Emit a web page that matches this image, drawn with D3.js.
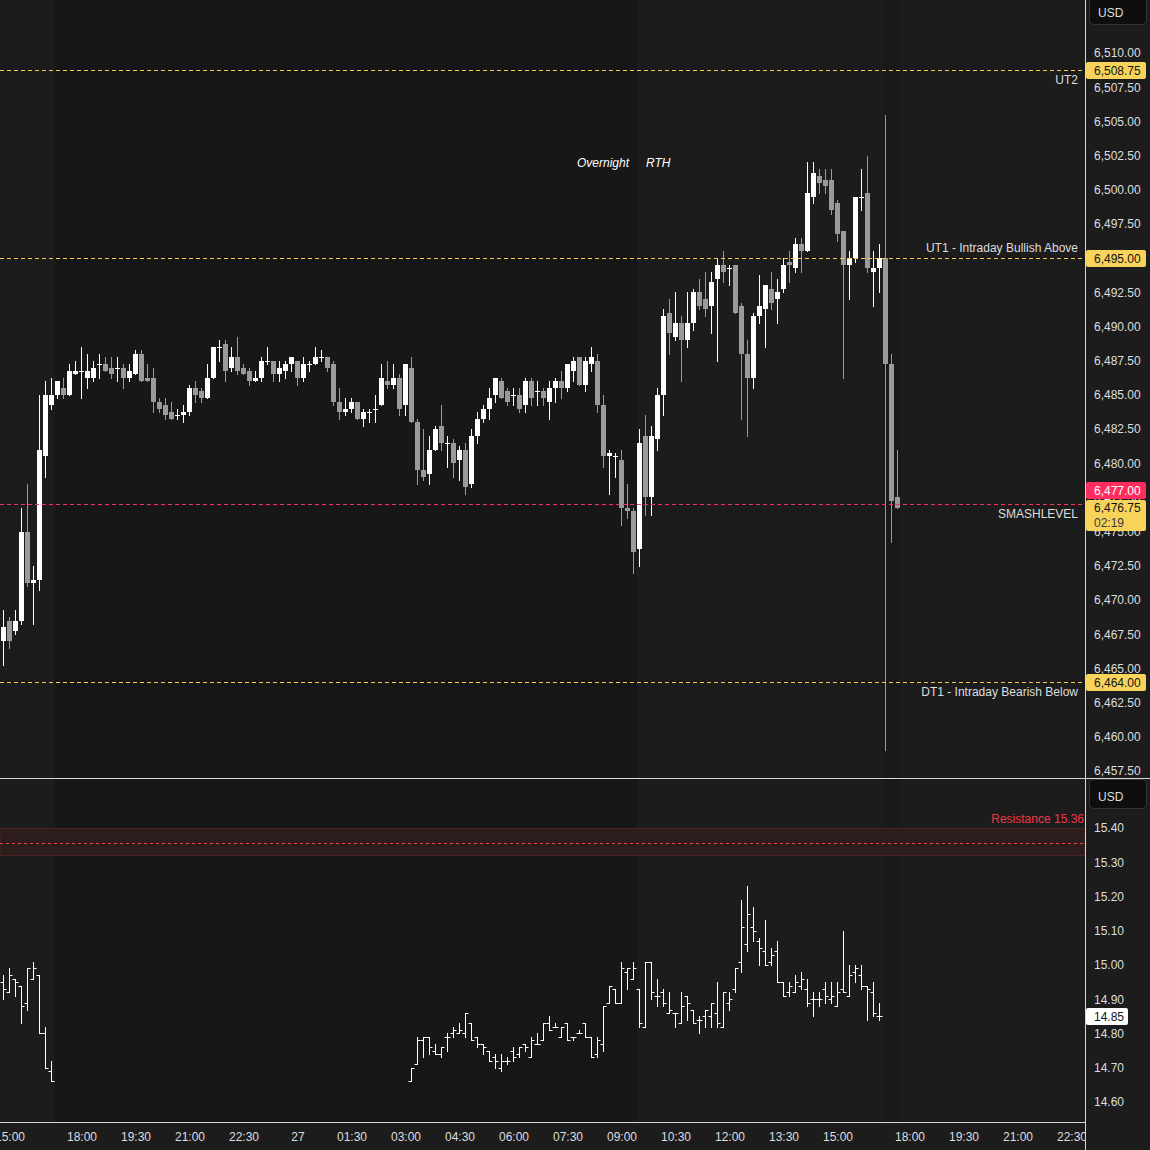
<!DOCTYPE html>
<html>
<head>
<meta charset="utf-8">
<script src="https://cdn.jsdelivr.net/npm/d3@7"></script>
<style>
html,body{margin:0;padding:0;background:#1c1c1c;}
svg{display:block;font-family:"Liberation Sans",Arial,sans-serif;}
</style>
</head>
<body>
<svg id="chart" width="1150" height="1150"></svg>
<script>
// ES 10 minute bars [open, high, low, close], bar 0 = 14:50 of the previous session
var esBars = [
	[6467,6469.25,6465.25,6468],[6468.5,6468.75,6466.5,6467],[6467.75,6469.25,6467.5,6468.5],[6468.5,6476.75,6468.25,6475],
	[6475,6478.5,6471,6471.25],[6471.25,6472.5,6468.25,6471.5],[6471.5,6485,6470.75,6481],[6480.5,6486,6479,6485],
	[6484.25,6486.25,6484,6485],[6485,6486,6484.75,6486],[6485.5,6486.25,6484.75,6485],[6485,6487.25,6485,6486.75],
	[6486.5,6487.5,6486.5,6486.75],[6486.75,6488.5,6484.75,6486.75],[6486.25,6488,6485.5,6486.75],[6486.25,6487.5,6486,6487],
	[6487.25,6488,6486.25,6487.25],[6487.25,6487.75,6486.75,6486.75],[6487,6487.75,6486.25,6486.5],[6487,6487.75,6486,6487],
	[6487,6487.25,6485.5,6486.25],[6486.25,6487.25,6486,6486.75],[6486.5,6488.25,6486.5,6488],[6488,6488.25,6486,6486],
	[6486.25,6487.25,6486,6486],[6486.25,6487,6483.75,6484.5],[6484.5,6484.75,6483.75,6484],[6484.25,6484.75,6483.25,6483.5],
	[6483.75,6484.5,6483.25,6483.25],[6483.5,6484,6483.25,6483.5],[6483.5,6484.25,6483,6483.75],[6483.75,6485.75,6483.5,6485.5],
	[6485.5,6486,6484.5,6485],[6485.25,6485.5,6484.5,6484.75],[6484.75,6487.25,6484.75,6486.25],[6486.25,6488.5,6486.25,6488.5],
	[6488.5,6489,6487.5,6488.5],[6488.75,6489,6486,6486.75],[6487,6488.5,6486.75,6487.75],[6487.75,6489.25,6486.5,6486.75],
	[6487,6487.25,6486.5,6486.5],[6486.75,6487,6485.75,6486],[6486,6486.75,6486,6486.25],[6486.25,6487.75,6486,6487.5],
	[6487.5,6488.5,6487.25,6487.5],[6487.5,6487.5,6486,6486.5],[6486.5,6487.5,6486,6487],[6486.75,6487.5,6486.25,6487.25],
	[6487.25,6487.75,6486.75,6487.75],[6487.5,6487.5,6485.75,6486.25],[6486.25,6487.75,6486,6487.25],[6487.25,6487.5,6486.75,6487.25],
	[6487.25,6488.5,6487.25,6487.75],[6487.75,6488.25,6487.5,6487.75],[6487.75,6487.75,6486.75,6487],[6487.25,6487.5,6484.25,6484.5],
	[6484.5,6485.5,6483.25,6483.75],[6483.75,6484.75,6483.5,6484],[6484,6484.75,6483.75,6484.5],[6484.5,6484.5,6483.25,6483.25],
	[6483.25,6484,6482.75,6483.75],[6483.75,6484,6483,6483.75],[6484,6485,6483,6484],[6484.25,6487.25,6484.25,6486.25],
	[6486,6487.5,6485.5,6485.75],[6485.75,6487.25,6485.5,6486.25],[6486.25,6486.5,6483.5,6484],[6484.25,6487.25,6483.5,6487.25],
	[6487,6487.75,6483,6483],[6483,6483.25,6478.5,6479.5],[6479.5,6482.5,6478.75,6479],[6479.25,6482,6478.5,6481],
	[6481,6482.75,6481,6482.5],[6482.75,6484.25,6481,6481.5],[6481.5,6482,6479.75,6481.5],[6481.5,6481.75,6479,6480],
	[6480.25,6481.25,6478.75,6481],[6481,6481.5,6477.75,6478.25],[6478.5,6482.5,6478.25,6482],[6482,6483.75,6481.5,6483.25],
	[6483.25,6484.25,6483,6484],[6484,6485.5,6483.25,6484.75],[6485,6486.25,6484.5,6486.25],[6486,6486.25,6484.75,6484.75],
	[6485.25,6485.5,6484.25,6484.5],[6485,6485.5,6484.25,6485],[6485,6485.5,6483.75,6484],[6484.25,6486.25,6483.75,6486],
	[6486,6486.25,6484.25,6484.75],[6485.25,6486,6484.25,6485.25],[6485.25,6485.5,6484.25,6484.75],[6484.5,6486,6483.25,6485.5],
	[6485.5,6486.25,6484.5,6486],[6486,6486.75,6484.75,6485.5],[6485.5,6487.25,6485.25,6487.25],[6486.75,6487.75,6486,6487.5],
	[6487.75,6487.75,6485.75,6485.75],[6485.75,6487.75,6485.25,6487.5],[6487.25,6488.5,6486.75,6487.75],[6487.5,6488,6483.75,6484.25],
	[6484.25,6485,6479.75,6480.5],[6480.5,6481,6477.75,6480.75],[6480.5,6480.75,6479,6480.5],[6480.25,6481,6475.5,6476.75],
	[6476.75,6478.5,6476,6476.5],[6476.5,6476.75,6472,6473.5],[6473.75,6482.5,6472.5,6481.5],[6482,6483.5,6476.25,6477.5],
	[6477.5,6482.75,6476.25,6482],[6481.75,6485.5,6481,6485],[6485,6491.25,6483.5,6490.75],[6491,6492,6488,6489.5],
	[6489.25,6492.5,6489,6490.25],[6490.25,6490.75,6486,6489],[6489,6492.5,6488.5,6490.25],[6490.25,6492.75,6489.75,6492.5],
	[6492.5,6493.5,6491.25,6491.5],[6492,6494,6490.75,6491.25],[6491.5,6494,6489.5,6493.25],[6493.5,6495,6487.5,6494.5],
	[6494.5,6495.5,6493.25,6494],[6494.25,6494.5,6493,6494.25],[6494.5,6494.5,6491,6491],[6491.5,6491.75,6483.25,6488],
	[6488,6489,6482,6486.25],[6486.25,6491,6485.5,6490.75],[6490.75,6493.75,6490.25,6491.5],[6491.25,6493,6488.5,6493],
	[6492.75,6494,6491.25,6491.75],[6492,6493.5,6490.25,6492.5],[6492.75,6495,6492.5,6494.5],[6494.75,6495.5,6493.25,6494.5],
	[6494.25,6496.5,6494,6496],[6496,6496.5,6494,6495.5],[6495.5,6502,6495.5,6499.75],[6499.5,6502,6499,6501.25],
	[6501,6501.5,6499.75,6500.5],[6500.75,6501.5,6499.75,6500.25],[6500.75,6501.5,6498.25,6498.5],[6499,6499.25,6496.25,6496.75],
	[6497,6497,6486.25,6494.5],[6494.5,6495.5,6492,6495],[6495,6499.5,6494.75,6499.5],[6499.5,6501.5,6498.5,6499.5],
	[6499.75,6502.5,6494,6494.25],[6494,6495.5,6491.5,6494.25],[6494.25,6496,6492.5,6495],[6495,6505.5,6459,6487.25],
	[6487.25,6488,6474.25,6477.25],[6477.5,6481,6476.75,6476.75]
];

// VIX bars [open, high, low, close], two pieces with their first bar index
var vixStartA = 0;
var vixBarsA = [
	[14.95,14.97,14.90,14.93],[14.92,14.99,14.92,14.97],[14.96,14.96,14.91,14.95],[14.94,14.94,14.83,14.88],
	[14.89,14.99,14.87,14.99],[14.96,15.01,14.96,14.99],[14.97,14.97,14.80,14.80],[14.80,14.82,14.70,14.70],
	[14.69,14.72,14.66,14.66]
];
var vixStartB = 68;
var vixBarsB = [
	[14.66,14.70,14.66,14.70],[14.71,14.79,14.71,14.78],[14.78,14.79,14.73,14.79],[14.79,14.79,14.74,14.76],
	[14.75,14.77,14.74,14.74],[14.74,14.76,14.73,14.76],[14.79,14.80,14.75,14.79],[14.80,14.82,14.79,14.81],
	[14.80,14.83,14.80,14.81],[14.80,14.86,14.79,14.86],[14.83,14.83,14.78,14.78],[14.79,14.79,14.76,14.77],
	[14.77,14.77,14.74,14.76],[14.75,14.75,14.72,14.72],[14.73,14.74,14.70,14.72],[14.70,14.74,14.69,14.72],
	[14.72,14.73,14.71,14.72],[14.75,14.76,14.72,14.73],[14.74,14.76,14.73,14.76],[14.77,14.77,14.75,14.76],
	[14.73,14.79,14.73,14.78],[14.77,14.80,14.77,14.77],[14.78,14.83,14.78,14.83],[14.83,14.85,14.81,14.81],
	[14.82,14.83,14.82,14.82],[14.79,14.82,14.79,14.82],[14.83,14.83,14.78,14.78],[14.79,14.79,14.78,14.79],
	[14.80,14.81,14.80,14.80],[14.83,14.83,14.79,14.79],[14.79,14.79,14.73,14.73],[14.74,14.79,14.73,14.78],
	[14.77,14.88,14.75,14.88],[14.89,14.94,14.89,14.94],[14.93,14.93,14.89,14.89],[14.89,15.01,14.89,14.99],
	[14.98,14.99,14.93,14.99],[14.96,15.01,14.96,14.99],[14.93,14.93,14.82,14.83],[14.82,15.01,14.82,15.01],
	[15.01,15.01,14.90,14.92],[14.91,14.96,14.88,14.91],[14.92,14.93,14.88,14.89],[14.86,14.92,14.86,14.87],
	[14.86,14.86,14.82,14.86],[14.83,14.92,14.83,14.88],[14.91,14.91,14.84,14.89],[14.87,14.87,14.83,14.83],
	[14.84,14.85,14.80,14.84],[14.85,14.87,14.82,14.87],[14.85,14.89,14.82,14.89],[14.86,14.95,14.82,14.83],
	[14.82,14.92,14.82,14.92],[14.89,14.92,14.87,14.90],[14.93,14.99,14.92,14.99],[15.01,15.19,14.98,15.11],
	[15.06,15.23,15.04,15.15],[15.11,15.17,15.07,15.10],[15.07,15.08,15.00,15.05],[15.04,15.13,15.00,15.00],
	[15.01,15.05,15.00,15.03],[15.04,15.07,14.95,14.95],[14.95,14.95,14.91,14.91],[14.92,14.95,14.91,14.94],
	[14.92,14.97,14.92,14.95],[14.94,14.98,14.93,14.96],[14.93,14.96,14.88,14.89],[14.90,14.92,14.85,14.90],
	[14.90,14.92,14.88,14.90],[14.93,14.95,14.89,14.91],[14.90,14.95,14.89,14.91],[14.88,14.95,14.88,14.92],
	[14.93,15.10,14.92,14.92],[14.91,15.00,14.91,14.97],[14.98,15.00,14.95,14.99],[14.97,15.00,14.93,14.94],
	[14.94,14.94,14.84,14.93],[14.92,14.95,14.85,14.86],[14.85,14.89,14.84,14.85]
];

var levelPrices = [6508.75, 6495, 6477, 6464];
var levelNames = ["UT2", "UT1 - Intraday Bullish Above", "SMASHLEVEL", "DT1 - Intraday Bearish Below"];
var levelKinds = ["target", "target", "smash", "target"];
var levelLabelBelow = [true, false, true, true];

var lastPrice = 6476.75;
var barTimer = "02:19";
var vixLast = 14.85;
var resistanceLevel = 15.36;
var resistanceHalfBand = 0.04;

var priceTicks = d3.range(6457.5, 6510.01, 2.5);
var vixTicks = d3.range(14.6, 15.401, 0.1);

var tickBars = [1, 13, 22, 31, 40, 49, 58, 67, 76, 85, 94, 103, 112, 121, 130, 139, 151, 160, 169, 178];
var tickLabels = ["15:00","18:00","19:30","21:00","22:30","27","01:30","03:00","04:30","06:00","07:30","09:00","10:30","12:00","13:30","15:00","18:00","19:30","21:00","22:30"];

// session shading, in bar index units
var sessionEdges = [-5, 8.5, 105.5, 146.5, 149.5, 200];
var sessionKinds = ["rth", "eth", "rth", "post", "rth"];
var sessionMark = 105.5;

var W = 1150, H = 1150, axisX = 1085, mainBottom = 778, lowBottom = 1122;
var upCol = "#ffffff", downCol = "#9a9a9a", textCol = "#dedede";
var shade = {rth: "#1c1c1c", eth: "#171717", post: "#191919"};
var levelCol = {target: "#f2c94c", smash: "#ff2d5f"};
var tagCol = {target: "#f7d35c", smash: "#ff2d5f"};
var tagText = {target: "#131313", smash: "#ffffff"};

var svg = d3.select("#chart");
var fmtPrice = d3.format(",.2f");

var x = d3.scaleLinear().domain([0, 149]).range([3.5, 897.5]);
var yMain = d3.scaleLinear().domain([6457.5, 6510]).range([771, 53]);
var yLow = d3.scaleLinear().domain([14.6, 15.4]).range([1102, 828]);

svg.append("rect").attr("width", W).attr("height", H).attr("fill", "#1c1c1c");

var defs = svg.append("defs");
defs.append("clipPath").attr("id", "clipMain").append("rect").attr("x", 0).attr("y", 0).attr("width", axisX).attr("height", mainBottom);
defs.append("clipPath").attr("id", "clipLow").append("rect").attr("x", 0).attr("y", mainBottom + 1).attr("width", axisX).attr("height", lowBottom - mainBottom - 1);
defs.append("clipPath").attr("id", "clipTime").append("rect").attr("x", 0).attr("y", lowBottom).attr("width", axisX).attr("height", H - lowBottom);

// session backgrounds in both panes
[["clipMain", 0, mainBottom], ["clipLow", mainBottom + 1, lowBottom]].forEach(function(p){
	var g = svg.append("g").attr("clip-path", "url(#" + p[0] + ")");
	for(var i = 0; i < sessionKinds.length; i++){
		g.append("rect")
			.attr("x", Math.round(x(sessionEdges[i])))
			.attr("width", Math.round(x(sessionEdges[i + 1])) - Math.round(x(sessionEdges[i])))
			.attr("y", p[1]).attr("height", p[2] - p[1])
			.attr("fill", shade[sessionKinds[i]]);
	}
});

var main = svg.append("g").attr("clip-path", "url(#clipMain)");

// session labels
var mx = Math.round(x(sessionMark));
main.append("text").attr("x", mx - 8).attr("y", 163).attr("dy", "0.35em")
	.attr("text-anchor", "end").attr("font-size", 12).attr("font-style", "italic")
	.attr("fill", "#ffffff").text("Overnight");
main.append("text").attr("x", mx + 9).attr("y", 163).attr("dy", "0.35em")
	.attr("font-size", 12).attr("font-style", "italic")
	.attr("fill", "#ffffff").text("RTH");

function barCol(d){
	return d[3] < d[0] ? downCol : upCol;
}

// candles
main.selectAll("line.wick").data(esBars).enter().append("line")
	.attr("class", "wick")
	.attr("x1", function(d, i){ return x(i); })
	.attr("x2", function(d, i){ return x(i); })
	.attr("y1", function(d){ return Math.round(yMain(d[1])); })
	.attr("y2", function(d){ return Math.round(yMain(d[2])) + 1; })
	.attr("stroke", barCol).attr("stroke-width", 1);

main.selectAll("rect.body").data(esBars).enter().append("rect")
	.attr("class", "body")
	.attr("x", function(d, i){ return x(i) - 2.5; })
	.attr("width", 5)
	.attr("y", function(d){ return Math.round(yMain(Math.max(d[0], d[3]))); })
	.attr("height", function(d){
		return Math.max(1, Math.round(yMain(Math.min(d[0], d[3]))) - Math.round(yMain(Math.max(d[0], d[3]))));
	})
	.attr("fill", barCol);

// level lines and their labels
levelPrices.forEach(function(p, i){
	var ly = Math.round(yMain(p)) + 0.5;
	main.append("line")
		.attr("x1", 0).attr("x2", axisX).attr("y1", ly).attr("y2", ly)
		.attr("stroke", levelCol[levelKinds[i]]).attr("stroke-width", 1)
		.attr("stroke-dasharray", "4,3");
	main.append("text")
		.attr("x", axisX - 7)
		.attr("y", levelLabelBelow[i] ? ly + 9 : ly - 11)
		.attr("dy", "0.35em").attr("text-anchor", "end")
		.attr("font-size", 12).attr("fill", textCol)
		.text(levelNames[i]);
});

// VIX pane
var low = svg.append("g").attr("clip-path", "url(#clipLow)");

var rTop = yLow(resistanceLevel + resistanceHalfBand), rBot = yLow(resistanceLevel - resistanceHalfBand);
low.append("rect").attr("x", 0).attr("width", axisX)
	.attr("y", Math.round(rTop) + 0.5).attr("height", Math.round(rBot - rTop))
	.attr("fill", "#2e1d1d").attr("stroke", "#4a2322").attr("stroke-width", 1);
low.append("line").attr("x1", 0).attr("x2", axisX)
	.attr("y1", Math.round(yLow(resistanceLevel)) + 1.5).attr("y2", Math.round(yLow(resistanceLevel)) + 1.5)
	.attr("stroke", "#e0483e").attr("stroke-dasharray", "3,3");
low.append("text").attr("x", axisX - 1).attr("y", 819).attr("dy", "0.35em")
	.attr("text-anchor", "end").attr("font-size", 12).attr("fill", "#f23645")
	.text("Resistance " + resistanceLevel.toFixed(2));

function drawOhlc(rows, start){
	var g = low.append("g").attr("stroke", "#ffffff").attr("stroke-width", 1);
	rows.forEach(function(d, k){
		var cx = x(start + k);
		g.append("line").attr("x1", cx).attr("x2", cx)
			.attr("y1", Math.round(yLow(d[1]))).attr("y2", Math.round(yLow(d[2])) + 1);
		var yo = Math.round(yLow(d[0])) + 0.5, yc = Math.round(yLow(d[3])) + 0.5;
		g.append("line").attr("x1", cx - 3).attr("x2", cx + 0.5).attr("y1", yo).attr("y2", yo);
		g.append("line").attr("x1", cx - 0.5).attr("x2", cx + 3).attr("y1", yc).attr("y2", yc);
	});
}
drawOhlc(vixBarsA, vixStartA);
drawOhlc(vixBarsB, vixStartB);

// frame lines
svg.append("line").attr("x1", 0).attr("x2", W).attr("y1", mainBottom + 0.5).attr("y2", mainBottom + 0.5).attr("stroke", "#d8d8d8");
svg.append("line").attr("x1", 0).attr("x2", axisX).attr("y1", lowBottom + 0.5).attr("y2", lowBottom + 0.5).attr("stroke", "#d8d8d8");
svg.append("line").attr("x1", axisX + 0.5).attr("x2", axisX + 0.5).attr("y1", 0).attr("y2", H).attr("stroke", "#d8d8d8");

// price axes
function styleAxis(g){
	g.select(".domain").remove();
	g.selectAll("text").attr("fill", textCol).attr("font-size", 12).attr("font-family", "Liberation Sans, Arial, sans-serif");
}

svg.append("g").attr("transform", "translate(" + axisX + ",0)")
	.call(d3.axisRight(yMain).tickValues(priceTicks).tickFormat(fmtPrice).tickSize(0).tickPadding(9))
	.call(styleAxis);

svg.append("g").attr("transform", "translate(" + axisX + ",0)")
	.call(d3.axisRight(yLow).tickValues(vixTicks).tickFormat(d3.format(".2f")).tickSize(0).tickPadding(9))
	.call(styleAxis);

// time axis
svg.append("g").attr("clip-path", "url(#clipTime)")
	.append("g").attr("transform", "translate(0," + lowBottom + ")")
	.call(d3.axisBottom(x).tickValues(tickBars).tickFormat(function(d){ return tickLabels[tickBars.indexOf(d)]; }).tickSize(0).tickPadding(10))
	.call(styleAxis);

// USD boxes
[0, 784].forEach(function(top){
	svg.append("rect").attr("x", 1089.5).attr("y", top - 4.5).attr("width", 57).attr("height", 29)
		.attr("rx", 4).attr("fill", "#0e0e0e").attr("stroke", "#333333");
	svg.append("text").attr("x", 1098).attr("y", top + 12.5).attr("dy", "0.35em")
		.attr("font-size", 12).attr("fill", textCol).text("USD");
});

// price tags on the axis
var curY = yMain(lastPrice);
var curTop = Math.round(curY - 8);

levelPrices.forEach(function(p, i){
	var cy = yMain(p);
	var top = Math.round(cy - 8.5);
	if(top + 17 > curTop && top < curTop + 31){
		top = curTop - 18;
	}
	var kind = levelKinds[i];
	svg.append("rect").attr("x", axisX + 1).attr("y", top).attr("width", 60).attr("height", 17)
		.attr("rx", 2).attr("fill", tagCol[kind]);
	svg.append("text").attr("x", 1094).attr("y", top + 8.5).attr("dy", "0.35em")
		.attr("font-size", 12).attr("fill", tagText[kind]).text(fmtPrice(p));
});

svg.append("rect").attr("x", axisX + 1).attr("y", curTop).attr("width", 60).attr("height", 31)
	.attr("rx", 2).attr("fill", tagCol.target);
svg.append("text").attr("x", 1094).attr("y", curTop + 8).attr("dy", "0.35em")
	.attr("font-size", 12).attr("fill", "#131313").text(fmtPrice(lastPrice));
svg.append("text").attr("x", 1094).attr("y", curTop + 23).attr("dy", "0.35em")
	.attr("font-size", 12).attr("fill", "#3a3a3a").text(barTimer);

var vy = Math.round(yLow(vixLast));
svg.append("rect").attr("x", axisX + 1).attr("y", vy - 8).attr("width", 42).attr("height", 17)
	.attr("rx", 2).attr("fill", "#ffffff");
svg.append("text").attr("x", 1094).attr("y", vy + 0.5).attr("dy", "0.35em")
	.attr("font-size", 12).attr("fill", "#131313").text(vixLast.toFixed(2));
</script>
</body>
</html>
